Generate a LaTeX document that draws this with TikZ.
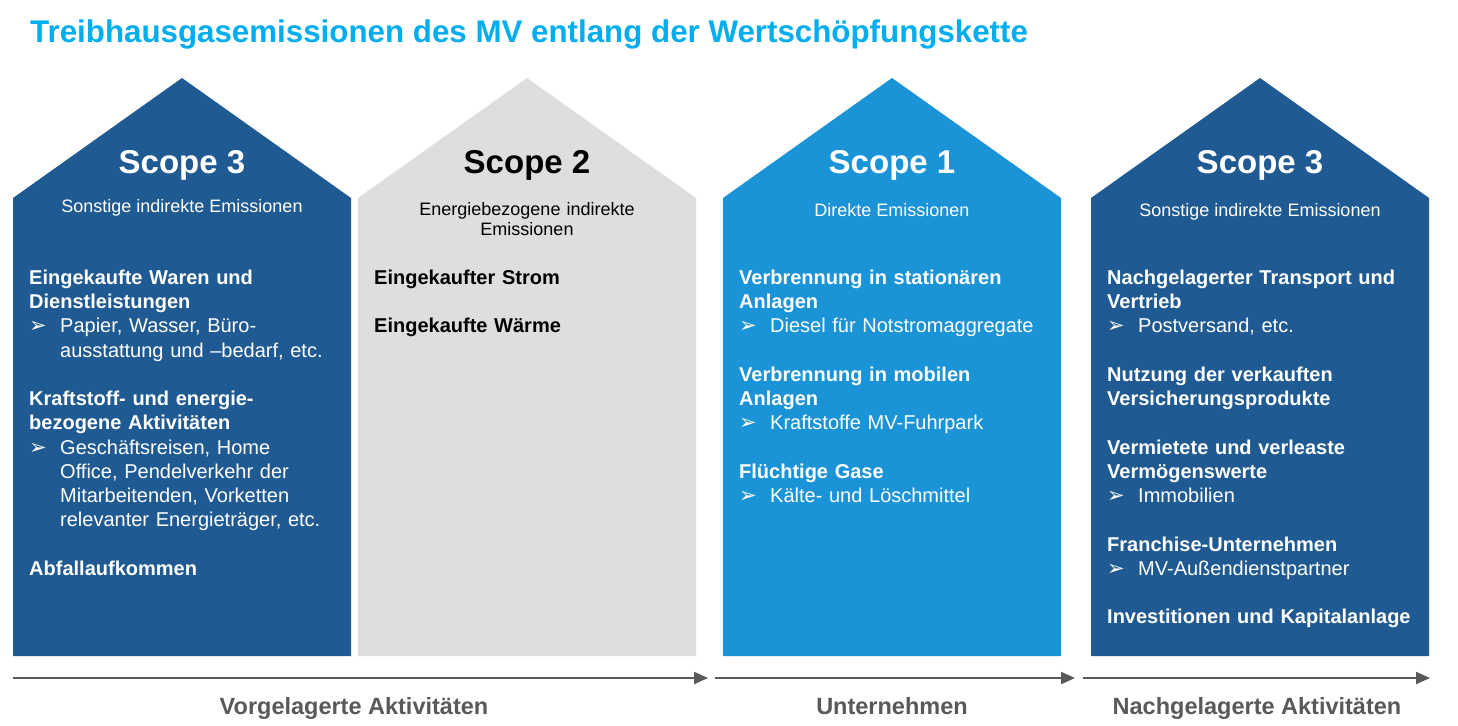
\documentclass[tikz,border=0pt]{standalone}
\usepackage{fontspec}
\setmainfont{Liberation Sans}
\newfontfamily\symfont{DejaVu Sans}
\usetikzlibrary{arrows.meta}
\definecolor{dblue}{RGB}{31,90,146}
\definecolor{lblue}{RGB}{26,147,215}
\definecolor{lgray}{RGB}{222,222,222}
\definecolor{ttl}{RGB}{0,174,239}
\definecolor{agray}{RGB}{89,89,89}
\newcommand{\fs}{\rule{0pt}{20pt}}
\newcommand{\sst}{\rule{0pt}{15pt}}
\newcommand{\hd}[1]{\par\noindent\textbf{#1}}
\newcommand{\bl}[1]{\par\hangindent=31pt\hangafter=1\noindent\makebox[31pt][l]{\symfont\fontsize{21}{21}\selectfont ➢}#1}
\newcommand{\gp}{\par\vskip24.25pt}
\tikzset{
  housefill/.style={fill=#1},
  scopehd/.style={anchor=base, inner sep=0pt, font=\fontsize{33}{36}\selectfont\bfseries},
  scopesub/.style={anchor=base, inner sep=0pt, font=\fontsize{18}{20}\selectfont},
  body/.style={anchor=north west, inner sep=0pt, text width=330pt,
    font=\fontsize{20}{24.25}\selectfont\raggedright},
  arr/.style={draw=agray, line width=2pt, -{Triangle[length=14pt,width=12pt]}},
  bottomlbl/.style={anchor=base, inner sep=0pt, text=agray, font=\fontsize{23.5}{26}\selectfont\bfseries}
}
\begin{document}
\begin{tikzpicture}[x=1pt,y=-1pt]
\useasboundingbox (0,0) rectangle (1458,725);
\fill[white] (0,0) rectangle (1458,725);
% title
\node[anchor=base west, inner sep=0pt, text=ttl, font=\fontsize{31.3}{34}\selectfont\bfseries] (title) at (30,43) {Treibhausgasemissionen des MV entlang der Wertschöpfungskette};
% houses
\foreach \L/\c in {13/dblue, 358/lgray, 723/lblue, 1091/dblue}{
  \fill[housefill=\c] (\L,656) -- (\L,198) -- ({\L+169},78) -- ({\L+338},198) -- ({\L+338},656) -- cycle;
}
% House 1
\node[scopehd, text=white] (h1t) at (182,173) {Scope 3};
\node[scopesub, text=white] (h1s) at (182,212) {Sonstige indirekte Emissionen};
\node[body, text=white] (h1b) at (29,260) {%
\hd{\fs Eingekaufte Waren und\newline Dienstleistungen}
\bl{Papier, Wasser, Büro-\newline ausstattung und –bedarf, etc.}
\gp
\hd{Kraftstoff- und energie-\newline bezogene Aktivitäten}
\bl{Geschäftsreisen, Home\newline Office, Pendelverkehr der\newline Mitarbeitenden, Vorketten\newline relevanter Energieträger, etc.}
\gp
\hd{Abfallaufkommen}};
% House 2
\node[scopehd, text=black] (h2t) at (527,173) {Scope 2};
\node[anchor=north, inner sep=0pt, text width=320pt, align=center, font=\fontsize{18}{20}\selectfont, text=black] (h2s) at (527,200) {\sst Energiebezogene indirekte\\Emissionen};
\node[body, text=black] (h2b) at (374,260) {%
\hd{\fs Eingekaufter Strom}
\gp
\hd{Eingekaufte Wärme}};
% House 3
\node[scopehd, text=white] (h3t) at (892,173) {Scope 1};
\node[scopesub, text=white] (h3s) at (892,216) {Direkte Emissionen};
\node[body, text=white] (h3b) at (739,260) {%
\hd{\fs Verbrennung in stationären\newline Anlagen}
\bl{Diesel für Notstromaggregate}
\gp
\hd{Verbrennung in mobilen\newline Anlagen}
\bl{Kraftstoffe MV-Fuhrpark}
\gp
\hd{Flüchtige Gase}
\bl{Kälte- und Löschmittel}};
% House 4
\node[scopehd, text=white] (h4t) at (1260,173) {Scope 3};
\node[scopesub, text=white] (h4s) at (1260,216) {Sonstige indirekte Emissionen};
\node[body, text=white] (h4b) at (1107,260) {%
\hd{\fs Nachgelagerter Transport und\newline Vertrieb}
\bl{Postversand, etc.}
\gp
\hd{Nutzung der verkauften\newline Versicherungsprodukte}
\gp
\hd{Vermietete und verleaste\newline Vermögenswerte}
\bl{Immobilien}
\gp
\hd{Franchise-Unternehmen}
\bl{MV-Außendienstpartner}
\gp
\hd{Investitionen und Kapitalanlage}};
% arrows
\coordinate (a1s) at (13,678);
\coordinate (a1e) at (708,678);
\coordinate (a2s) at (715,678);
\coordinate (a2e) at (1075,678);
\coordinate (a3s) at (1083,678);
\coordinate (a3e) at (1430,678);
\draw[arr] (a1s) -- (a1e);
\draw[arr] (a2s) -- (a2e);
\draw[arr] (a3s) -- (a3e);
\node[bottomlbl] (l1) at (354,714) {Vorgelagerte Aktivitäten};
\node[bottomlbl] (l2) at (892,714) {Unternehmen};
\node[bottomlbl] (l3) at (1257,714) {Nachgelagerte Aktivitäten};
\end{tikzpicture}
\end{document}
